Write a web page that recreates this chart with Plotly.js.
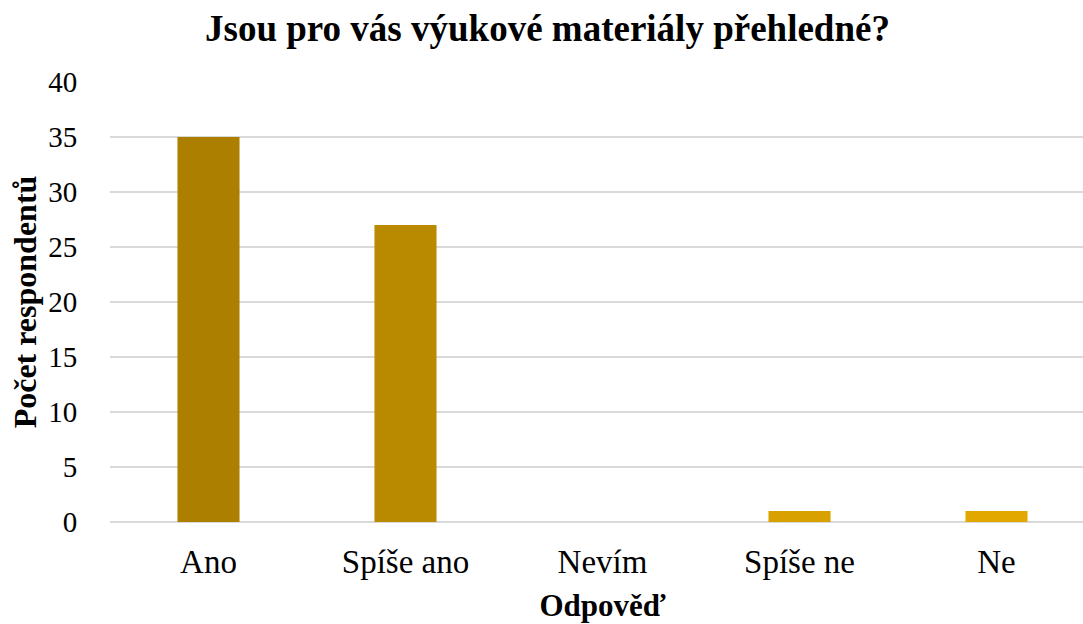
<!DOCTYPE html>
<html>
<head>
<meta charset="utf-8">
<script src="https://cdn.plot.ly/plotly-3.0.1.min.js"></script>
<style>
  html, body { margin: 0; padding: 0; overflow: hidden; background: #fff; }
  #chart { width: 1095px; height: 624px; }
</style>
</head>
<body>
<div id="chart"></div>
<script>
// Survey answers and respondent counts
const answers = ["Ano", "Spíše ano", "Nevím", "Spíše ne", "Ne"];
const respondents = [35, 27, 0, 1, 1];
const barColors = ["#AD7F00", "#B98A00", "#CC9600", "#D9A100", "#E2A800"];
const yTicks = [0, 5, 10, 15, 20, 25, 30, 35, 40];

const serif = "'Liberation Serif', 'Times New Roman', serif";

const trace = {
  type: "bar",
  x: answers,
  y: respondents,
  marker: { color: barColors },
  hoverinfo: "x+y"
};

const layout = {
  width: 1095,
  height: 624,
  margin: { l: 110, r: 0, t: 82, b: 102 },
  paper_bgcolor: "#ffffff",
  plot_bgcolor: "#ffffff",
  bargap: 0.685,
  showlegend: false,
  font: { family: serif, color: "#000000" },
  title: {
    text: "<b>Jsou pro vás výukové materiály přehledné?</b>",
    font: { family: serif, size: 37, color: "#000000" },
    xref: "container",
    x: 0.5,
    xanchor: "center",
    yref: "container",
    y: 0.955,
    yanchor: "middle"
  },
  xaxis: {
    type: "category",
    showgrid: false,
    showline: false,
    zeroline: false,
    ticks: "outside",
    ticklen: 10,
    tickcolor: "rgba(0,0,0,0)",
    tickfont: { family: serif, size: 33, color: "#000000" },
    title: {
      text: "<b>Odpověď</b>",
      font: { family: serif, size: 31, color: "#000000" },
      standoff: 15
    }
  },
  yaxis: {
    range: [0, 40],
    tickvals: yTicks,
    showgrid: true,
    gridcolor: "#D9D9D9",
    gridwidth: 1.5,
    zeroline: true,
    zerolinecolor: "#D9D9D9",
    zerolinewidth: 1.5,
    showline: false,
    ticks: "outside",
    ticklen: 26,
    tickcolor: "rgba(0,0,0,0)",
    tickfont: { family: serif, size: 29, color: "#000000" },
    title: {
      text: "<b>Počet respondentů</b>",
      font: { family: serif, size: 32, color: "#000000" },
      standoff: 2
    }
  }
};

Plotly.newPlot("chart", [trace], layout, { displayModeBar: false, staticPlot: true });
</script>
</body>
</html>
